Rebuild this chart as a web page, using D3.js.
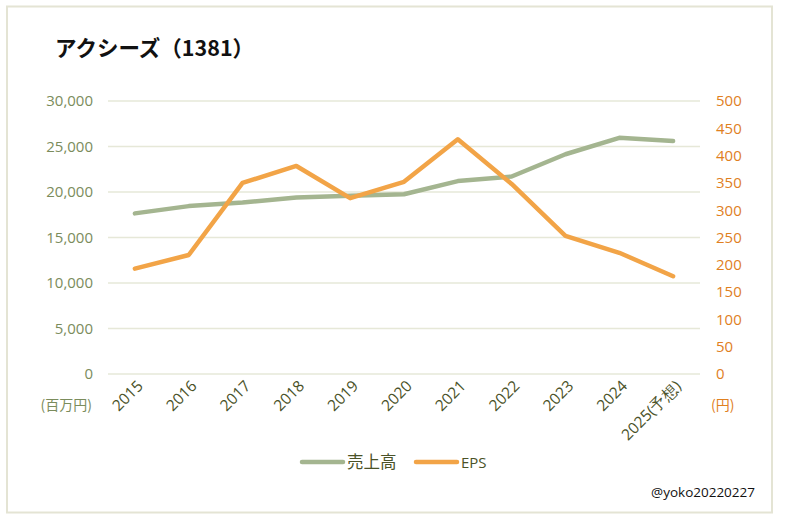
<!DOCTYPE html>
<html><head><meta charset="utf-8">
<script src="https://cdn.jsdelivr.net/npm/d3@7"></script>
<style>body{margin:0;background:#fff;}svg{display:block;}</style>
</head><body>
<svg id="c" width="785" height="519"></svg>
<script>
const categories = ["2015","2016","2017","2018","2019","2020","2021","2022","2023","2024","2025(予想)"];
const sales = [17650,18450,18850,19400,19600,19750,21200,21700,24150,25950,25600];
const eps = [193,218,350,381,322,352,430,348,253,222,179];
const leftTicks = [0,5000,10000,15000,20000,25000,30000];
const rightTicks = [0,50,100,150,200,250,300,350,400,450,500];

const svg = d3.select("#c");
const font = "'Noto Sans CJK JP','Noto Sans',sans-serif";
const lat = "'Open Sans','Liberation Sans',sans-serif";
svg.append("rect").attr("x",7).attr("y",6.5).attr("width",765).attr("height",506)
  .attr("fill","#fff").attr("stroke","#e4e4d4").attr("stroke-width",2);

svg.append("text").attr("x",55).attr("y",56).attr("font-family",font).attr("font-weight","bold")
  .attr("font-size",21.5).attr("fill","#111").text("アクシーズ（1381）");

const x = d3.scaleBand().domain(categories).range([108,700]);
const yL = d3.scaleLinear().domain([0,30000]).range([374,101]);
const yR = d3.scaleLinear().domain([0,500]).range([374,101]);
const cx = d => x(d) + x.bandwidth()/2;

// gridlines
svg.append("g").selectAll("line").data(leftTicks).join("line")
  .attr("x1",108).attr("x2",700).attr("y1",d=>yL(d)).attr("y2",d=>yL(d))
  .attr("stroke","#e6e8d8").attr("stroke-width",1.5);

// left axis
const gl = svg.append("g").attr("transform","translate(93,0)")
  .call(d3.axisLeft(yL).tickValues(leftTicks).tickSize(0).tickPadding(0).tickFormat(d3.format(",")));
gl.select(".domain").remove();
gl.selectAll("text").attr("font-family",lat).attr("font-size",15).attr("fill","#7b8c5c");

// right axis
const gr = svg.append("g").attr("transform","translate(716,0)")
  .call(d3.axisRight(yR).tickValues(rightTicks).tickSize(0).tickPadding(0));
gr.select(".domain").remove();
gr.selectAll("text").attr("font-family",lat).attr("font-size",15).attr("fill","#e0801f");

svg.append("text").attr("x",92).attr("y",410).attr("text-anchor","end").attr("font-family",font)
  .attr("font-size",14).attr("fill","#7b8c5c").text("(百万円)");
svg.append("text").attr("x",711).attr("y",410).attr("font-family",font)
  .attr("font-size",14).attr("fill","#e0801f").text("(円)");

// x axis labels
const gx = svg.append("g").attr("transform","translate(0,378)")
  .call(d3.axisBottom(x).tickSize(0).tickPadding(0));
gx.select(".domain").remove();
gx.selectAll("text").attr("font-family",lat).attr("font-size",15.5).attr("fill","#4a5228")
  .attr("text-anchor","end").attr("dy",0).attr("transform","translate(9,9) rotate(-45)");

// lines
const lineL = d3.line().x((d,i)=>cx(categories[i])).y(d=>yL(d));
const lineR = d3.line().x((d,i)=>cx(categories[i])).y(d=>yR(d));
svg.append("path").attr("d",lineL(sales)).attr("fill","none").attr("stroke","#a4b590")
  .attr("stroke-width",4.5).attr("stroke-linecap","round").attr("stroke-linejoin","round");
svg.append("path").attr("d",lineR(eps)).attr("fill","none").attr("stroke","#f2a447")
  .attr("stroke-width",4.5).attr("stroke-linecap","round").attr("stroke-linejoin","round");

// legend
const leg = [{n:"売上高",c:"#a4b590",x:302},{n:"EPS",c:"#f2a447",x:416}];
leg.forEach(l=>{
  svg.append("line").attr("x1",l.x).attr("x2",l.x+41).attr("y1",462).attr("y2",462)
    .attr("stroke",l.c).attr("stroke-width",4.5).attr("stroke-linecap","round");
  svg.append("text").attr("x",l.x+45).attr("y",468).attr("font-family",l.n==="EPS"?lat:font)
    .attr("font-size",l.n==="EPS"?15:16.5).attr("fill","#4a5228").text(l.n);
});

svg.append("text").attr("x",755).attr("y",497).attr("text-anchor","end")
  .attr("font-family",lat).attr("font-size",13.5).attr("fill","#111").text("@yoko20220227");
</script>
</body></html>
